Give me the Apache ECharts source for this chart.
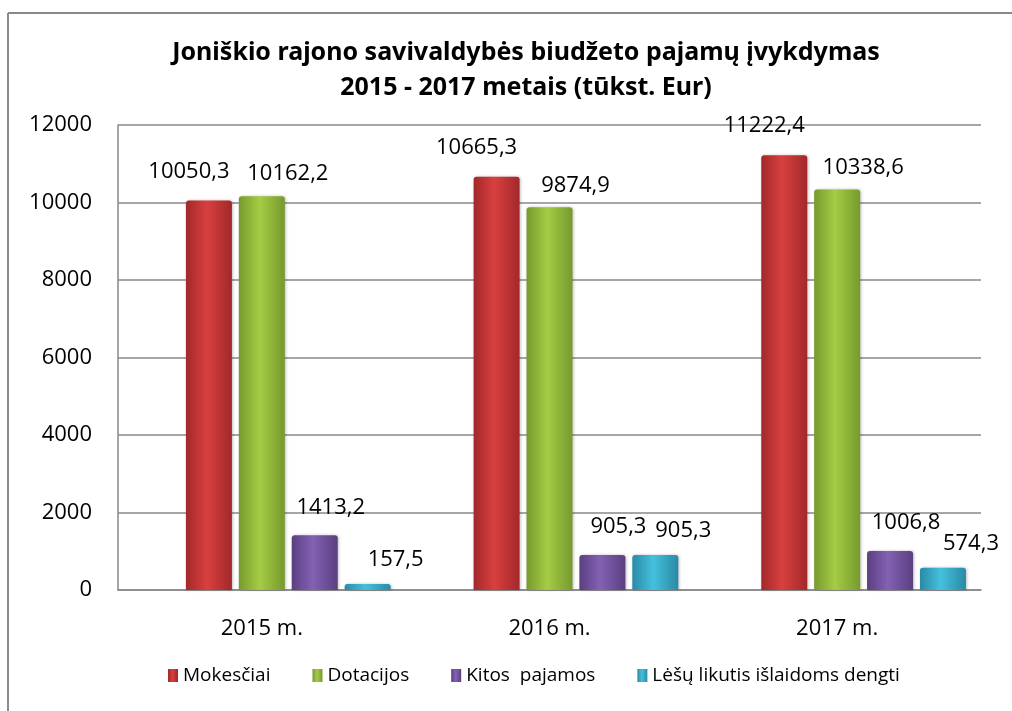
<!DOCTYPE html>
<html>
<head>
<meta charset="utf-8">
<script src="https://cdn.jsdelivr.net/npm/echarts@6/dist/echarts.min.js"></script>
<style>
  html, body { margin: 0; padding: 0; background: #fff; }
  #chart { width: 1012px; height: 711px; }
</style>
</head>
<body>
<div id="chart"></div>
<script>
// duomenys
const categories = ['2015 m.', '2016 m.', '2017 m.']
const seriesNames = ['Mokesčiai', 'Dotacijos', 'Kitos  pajamos', 'Lėšų likutis išlaidoms dengti']
const mokesciai = [10050.3, 10665.3, 11222.4]
const dotacijos = [10162.2, 9874.9, 10338.6]
const kitosPajamos = [1413.2, 905.3, 1006.8]
const lesuLikutis = [157.5, 905.3, 574.3]
const yTicks = [0, 2000, 4000, 6000, 8000, 10000, 12000]

const FONT = '"Open Sans", "Noto Sans", sans-serif'

// spalvos: krastas, vidurys
const palette = [
  ['#a3282a', '#d8403f'],
  ['#779a2e', '#a4cc44'],
  ['#5a3f80', '#8461b3'],
  ['#2a8aa6', '#44c0dc']
]
// etikeciu poslinkiai (kaip originale, jos paslinktos)
const labelShift = [[-20, -4], [26, 3], [16, -3], [28, 1]]

function barColor (c) {
  return new echarts.graphic.LinearGradient(0, 0, 1, 0, [
    { offset: 0, color: c[0] },
    { offset: 0.45, color: c[1] },
    { offset: 1, color: c[0] }
  ])
}

function fmt (v) {
  return v.toFixed(1).replace('.', ',')
}

const values = [mokesciai, dotacijos, kitosPajamos, lesuLikutis]

const series = [
  // tuscia vieta pirmoje grupes pozicijoje (kaip Excel grafike)
  {
    name: '_tuscia',
    type: 'bar',
    barWidth: 46,
    barGap: '15%',
    data: categories.map(() => null),
    silent: true
  }
]
values.forEach((arr, i) => {
  series.push({
    name: seriesNames[i],
    type: 'bar',
    barWidth: 46,
    barGap: '15%',
    itemStyle: {
      color: barColor(palette[i]),
      borderRadius: [3, 3, 0, 0],
      shadowColor: 'rgba(0,0,0,0.25)',
      shadowBlur: 3,
      shadowOffsetX: 1
    },
    label: {
      show: true,
      position: 'top',
      distance: 14,
      offset: labelShift[i],
      color: '#000',
      fontFamily: FONT,
      fontSize: 22,
      formatter: (p) => fmt(p.value)
    },
    data: arr
  })
})

const chart = echarts.init(document.getElementById('chart'))
chart.setOption({
  backgroundColor: '#fff',
  animation: false,
  title: {
    text: 'Joniškio rajono savivaldybės biudžeto pajamų įvykdymas\n2015 - 2017 metais (tūkst. Eur)',
    left: 521,
    top: 30,
    textAlign: 'center',
    textStyle: {
      fontFamily: '"Liberation Sans Narrow", "Noto Sans", sans-serif',
      fontWeight: 'bold',
      fontSize: 25,
      lineHeight: 35,
      color: '#000'
    }
  },
  graphic: [
    { type: 'line', shape: { x1: 8, y1: 13, x2: 1012, y2: 13 }, style: { stroke: '#8a8a8a', lineWidth: 2 } },
    { type: 'line', shape: { x1: 8, y1: 13, x2: 8, y2: 711 }, style: { stroke: '#8a8a8a', lineWidth: 2 } }
  ],
  legend: {
    data: seriesNames,
    bottom: 21,
    left: 163,
    icon: 'rect',
    itemWidth: 10,
    itemHeight: 13,
    itemGap: 42,
    textStyle: { fontFamily: FONT, fontSize: 19, color: '#000' }
  },
  grid: {
    left: 118,
    right: 31,
    top: 125,
    bottom: 121
  },
  xAxis: {
    type: 'category',
    data: categories,
    axisLine: { lineStyle: { color: '#888', width: 1.5 } },
    axisTick: { show: false },
    axisLabel: { color: '#000', fontFamily: FONT, fontSize: 22, margin: 28 }
  },
  yAxis: {
    type: 'value',
    min: yTicks[0],
    max: yTicks[yTicks.length - 1],
    interval: yTicks[1] - yTicks[0],
    axisLine: { show: true, lineStyle: { color: '#888', width: 1.5 } },
    axisTick: { show: false },
    splitLine: { lineStyle: { color: '#888', width: 1.5 } },
    axisLabel: {
      color: '#000',
      fontFamily: FONT,
      fontSize: 22,
      margin: 26,
      formatter: (v) => String(v)
    }
  },
  series: series
})
</script>
</body>
</html>
